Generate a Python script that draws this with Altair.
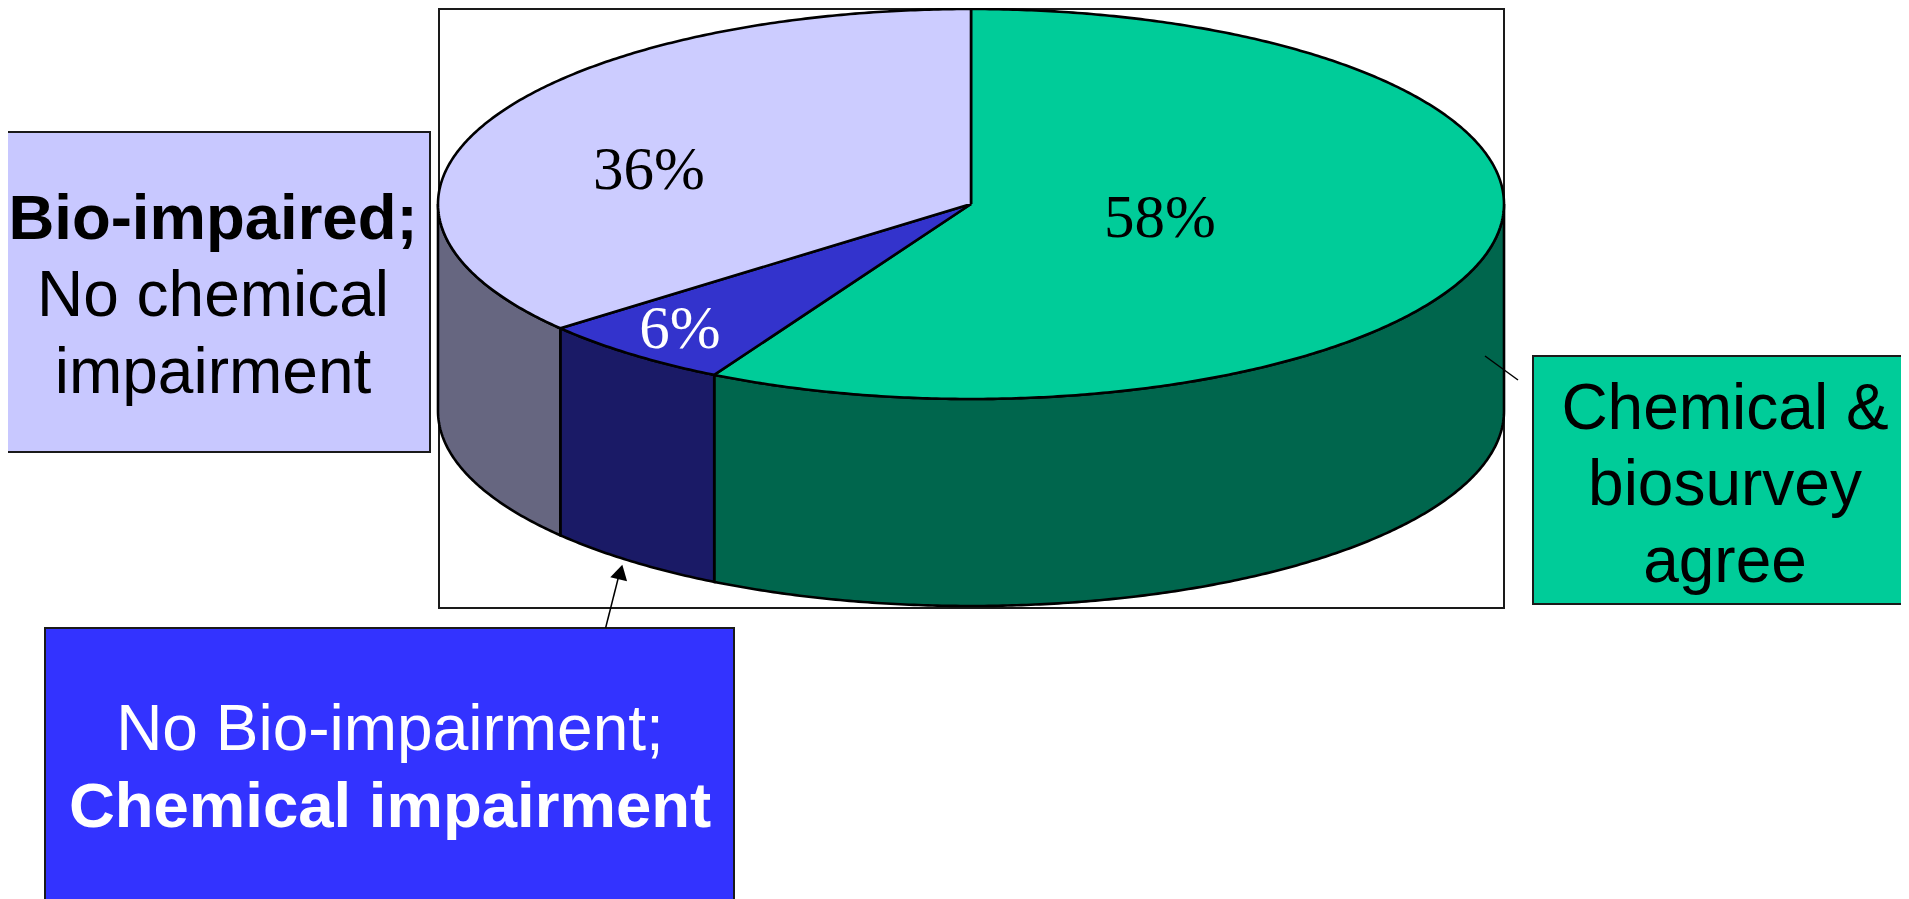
import altair as alt
import numpy as np
import pandas as pd

# Slices, clockwise from the top of the pie
slice_names = ["Chemical & biosurvey agree", "No Bio-impairment; Chemical impairment", "Bio-impaired; No chemical impairment"]
slice_values = [58, 6, 36]
top_colors = ["#00CC99", "#3333CC", "#CCCCFF"]
wall_colors = ["#00664D", "#1A1A66", "#666680"]

# Percent labels
pct_labels = ["58%", "6%", "36%"]
pct_x = [1160, 680, 649]
pct_y = [237, 348, 189]
pct_colors = ["#000000", "#FFFFFF", "#000000"]

# Pie geometry, in picture pixels
cx, cy, rx, ry, depth = 971, 204, 533, 195, 207

# Frame and call-out boxes: x1, x2, y1, y2, fill
frame = [439, 1504, 9, 608, "#FFFFFF"]
boxes = [
    [-4, 430, 132, 452, "#C8C8FF"],
    [1533, 1915, 356, 604, "#00CC99"],
    [45, 734, 628, 910, "#3333FF"],
]

# Call-out texts: label, x, baseline y, colour, weight, size
texts = [
    ("Bio-impaired;", 213, 239, "#000000", "bold", 63.5),
    ("No chemical", 213, 316, "#000000", "normal", 64),
    ("impairment", 213, 393, "#000000", "normal", 64),
    ("Chemical &", 1725, 429, "#000000", "normal", 64),
    ("biosurvey", 1725, 505, "#000000", "normal", 64),
    ("agree", 1725, 582, "#000000", "normal", 64),
    ("No Bio-impairment;", 390, 750, "#FFFFFF", "normal", 64),
    ("Chemical impairment", 390, 827, "#FFFFFF", "bold", 63.5),
]

# Leader lines: x1, y1, x2, y2
leaders = [[605.6, 628, 620, 571], [1485, 356, 1518, 380]]
arrow_head = [620.5, 572]

X = alt.X("x:Q", scale=alt.Scale(domain=[8, 1901], nice=False, zero=False), axis=None)
Y = alt.Y("y:Q", scale=alt.Scale(domain=[899, 8], nice=False, zero=False), axis=None)


def ellipse(turn_from, turn_to, drop=0):
    t = np.radians(np.linspace(turn_from, turn_to, max(3, int(abs(turn_to - turn_from) * 2))))
    return list(cx + rx * np.sin(t)), list(cy + drop - ry * np.cos(t))


def polygon(xs, ys, color, width=2.6):
    xs, ys = list(xs) + [xs[0]], list(ys) + [ys[0]]
    df = pd.DataFrame({"x": xs, "y": ys, "i": range(len(xs))})
    return (
        alt.Chart(df)
        .mark_line(fill=color, stroke="#000000", strokeWidth=width, strokeJoin="miter", clip=True)
        .encode(x=X, y=Y, order=alt.Order("i:Q"))
    )


def rect(b, width=2.0):
    df = pd.DataFrame({"x": [b[0]], "x2": [b[1]], "y": [b[2]], "y2": [b[3]]})
    return (
        alt.Chart(df)
        .mark_rect(fill=b[4], stroke="#1A1A1A", strokeWidth=width, clip=True)
        .encode(x=X, x2="x2:Q", y=Y, y2="y2:Q")
    )


def text(label, x, y, color, weight, font, size):
    df = pd.DataFrame({"x": [x], "y": [y], "label": [label]})
    return (
        alt.Chart(df)
        .mark_text(font=font, fontSize=size, fontWeight=weight, color=color,
                   align="center", baseline="alphabetic")
        .encode(x=X, y=Y, text="label:N")
    )


layers = [rect(frame)]

# Walls: only the front half of the cylinder (90 to 270 degrees) is visible
start = 0.0
wall_layers, top_layers = [], []
for value, top, wall in zip(slice_values, top_colors, wall_colors):
    end = start + value * 3.6
    a, b = max(start, 90), min(end, 270)
    if a < b:
        ux, uy = ellipse(a, b)
        lx, ly = ellipse(b, a, depth)
        wall_layers.append(polygon(ux + lx, uy + ly, wall))
    ax, ay = ellipse(start, end)
    top_layers.append(polygon([cx] + ax, [cy] + ay, top))
    start = end
layers += wall_layers + top_layers

for lb, x, y, c in zip(pct_labels, pct_x, pct_y, pct_colors):
    layers.append(text(lb, x, y, c, "normal", "Liberation Serif", 61))

for b in boxes:
    layers.append(rect(b))

for (x1, y1, x2, y2) in leaders:
    df = pd.DataFrame({"x": [x1, x2], "y": [y1, y2], "i": [0, 1]})
    layers.append(
        alt.Chart(df).mark_line(color="#000000", strokeWidth=1.5)
        .encode(x=X, y=Y, order=alt.Order("i:Q"))
    )

layers.append(
    alt.Chart(pd.DataFrame({"x": [arrow_head[0]], "y": [arrow_head[1]]}))
    .mark_point(shape="triangle-up", angle=14, size=300, filled=True, fill="#000000",
                stroke="#000000", strokeWidth=0, opacity=1)
    .encode(x=X, y=Y)
)

for lb, x, y, c, w, s in texts:
    layers.append(text(lb, x, y, c, w, "Liberation Sans", s))

chart = (
    alt.layer(*layers)
    .properties(width=1893, height=891, padding=0, autosize=alt.AutoSizeParams(type="none"),
                background="#FFFFFF")
    .configure_view(stroke=None)
)

chart.save("out.html", embed_options={"renderer": "svg", "actions": False})
